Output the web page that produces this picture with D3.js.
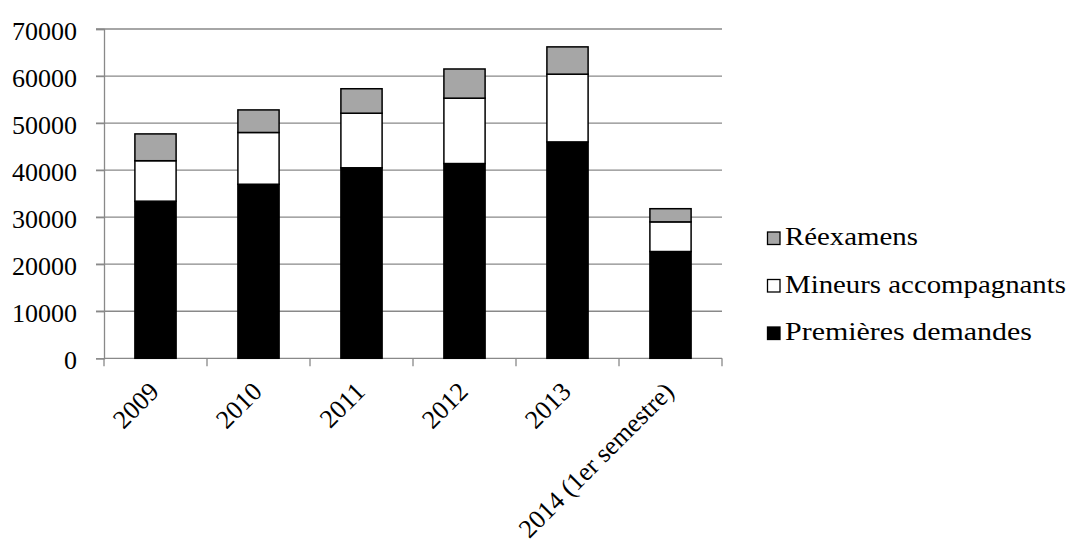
<!DOCTYPE html>
<html>
<head>
<meta charset="utf-8">
<script src="https://cdn.jsdelivr.net/npm/d3@7"></script>
</head>
<body style="margin:0">
<svg id="s" width="1077" height="549"></svg>
<script>
// Demandes d'asile par année
const categories = ["2009", "2010", "2011", "2012", "2013", "2014 (1er semestre)"];
const premieresDemandes = [33400, 37000, 40500, 41400, 46000, 22700];
const mineursAccompagnants = [8600, 11000, 11600, 13900, 14400, 6300];
const reexamens = [5700, 4800, 5200, 6200, 5800, 2800];
const yTicks = [0, 10000, 20000, 30000, 40000, 50000, 60000, 70000];

const seriesKeys = ["premieres", "mineurs", "reexamens"];
const seriesNames = {
  premieres: "Premières demandes",
  mineurs: "Mineurs accompagnants",
  reexamens: "Réexamens"
};
const seriesFill = { premieres: "#000000", mineurs: "#ffffff", reexamens: "#a6a6a6" };

const rows = categories.map((c, i) => ({
  cat: c,
  premieres: premieresDemandes[i],
  mineurs: mineursAccompagnants[i],
  reexamens: reexamens[i]
}));

const svg = d3.select("#s");
const plot = { left: 104, right: 722, top: 29, bottom: 358.3 };

const x = d3.scaleBand()
  .domain(categories)
  .range([plot.left, plot.right])
  .paddingInner(0.6)
  .paddingOuter(0.3);

const y = d3.scaleLinear()
  .domain([0, 70000])
  .range([plot.bottom, plot.top]);

const gridColor = "#898989";

// text helper: serif face, 26px, black
function serifText(sel) {
  return sel.style("font-family", "'Liberation Serif'").attr("font-size", 26).attr("fill", "#000");
}

// horizontal gridlines with short outer ticks
svg.append("g")
  .selectAll("line")
  .data(yTicks.filter(d => d > 0))
  .join("line")
  .attr("x1", plot.left - 8)
  .attr("x2", plot.right)
  .attr("y1", d => y(d))
  .attr("y2", d => y(d))
  .attr("stroke", gridColor)
  .attr("stroke-width", 1.3);

// y axis
const yAxis = d3.axisLeft(y).tickValues(yTicks).tickSize(8).tickPadding(19).tickFormat(d3.format("d"));
const gy = svg.append("g").attr("transform", `translate(${plot.left},0)`).call(yAxis);
gy.attr("font-family", null).attr("font-size", null);
gy.select(".domain").attr("stroke", gridColor).attr("stroke-width", 1.3);
gy.selectAll(".tick line").attr("stroke", gridColor).attr("stroke-width", 1.3);
serifText(gy.selectAll(".tick text")).attr("dy", "0.4em");

// x axis line and boundary ticks
const step = x.step();
const boundaries = d3.range(categories.length + 1).map(i => plot.left + i * step);
svg.append("line")
  .attr("x1", plot.left).attr("x2", plot.right)
  .attr("y1", plot.bottom).attr("y2", plot.bottom)
  .attr("stroke", gridColor).attr("stroke-width", 1.3);
svg.append("g")
  .selectAll("line")
  .data(boundaries)
  .join("line")
  .attr("x1", d => d).attr("x2", d => d)
  .attr("y1", plot.bottom).attr("y2", plot.bottom + 8)
  .attr("stroke", gridColor).attr("stroke-width", 1.3);

// stacked bars
const stacked = d3.stack().keys(seriesKeys)(rows);
svg.append("g")
  .selectAll("g")
  .data(stacked)
  .join("g")
  .attr("fill", d => seriesFill[d.key])
  .selectAll("rect")
  .data(d => d)
  .join("rect")
  .attr("x", d => x(d.data.cat))
  .attr("width", x.bandwidth())
  .attr("y", d => y(d[1]))
  .attr("height", d => y(d[0]) - y(d[1]))
  .attr("stroke", "#000")
  .attr("stroke-width", 1.5);

// rotated category labels
serifText(svg.append("g")
  .selectAll("text")
  .data(categories)
  .join("text"))
  .attr("text-anchor", "end")
  .attr("transform", d => `translate(${x(d) + x.bandwidth() / 2 - 8},${plot.bottom + 22}) rotate(-45)`)
  .attr("dy", "0.7em")
  .text(d => d);

// legend
const legendOrder = ["reexamens", "mineurs", "premieres"];
const legendWidths = { reexamens: 133, mineurs: 281, premieres: 247 };
const legend = svg.append("g").attr("transform", "translate(767,0)");
legendOrder.forEach((k, i) => {
  const base = 245 + i * 47.5;
  legend.append("rect")
    .attr("x", 0.5).attr("y", base - 13)
    .attr("width", 12.5).attr("height", 12.5)
    .attr("fill", seriesFill[k])
    .attr("stroke", "#000").attr("stroke-width", 1.3);
  serifText(legend.append("text"))
    .attr("x", 18).attr("y", base)
    .attr("textLength", legendWidths[k])
    .attr("lengthAdjust", "spacingAndGlyphs")
    .text(seriesNames[k]);
});
</script>
</body>
</html>
